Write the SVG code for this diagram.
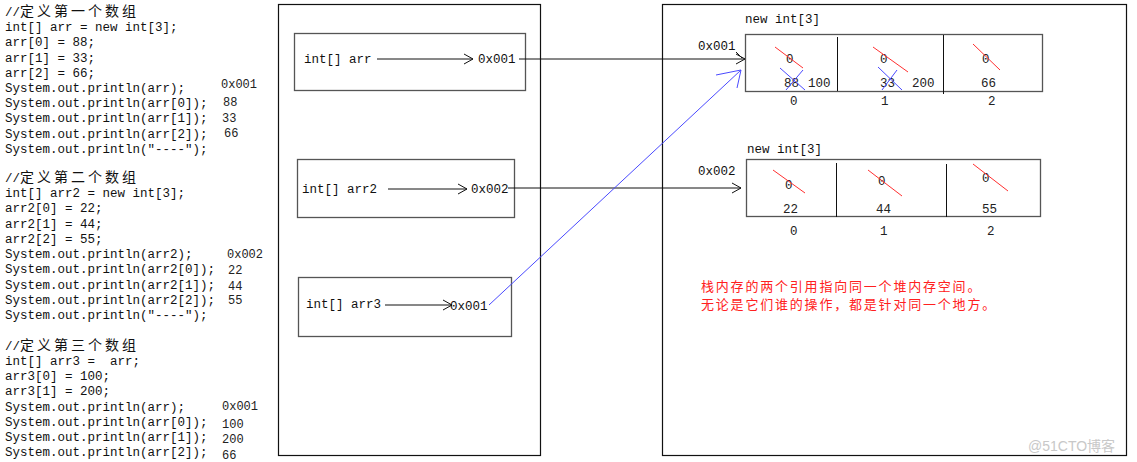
<svg xmlns="http://www.w3.org/2000/svg" width="1137" height="462" viewBox="0 0 1137 462">
<style>
.code{font-family:"Liberation Mono","Noto Sans CJK SC",monospace;font-size:12.5px;fill:#111;white-space:pre}
.cjk{font-family:"Noto Sans CJK SC",sans-serif;font-size:14px;letter-spacing:3px}
.val{font-family:"Liberation Mono","Noto Sans CJK SC",monospace;font-size:12px;fill:#222}
.lbl{font-family:"Liberation Mono",monospace;font-size:12.5px;fill:#111}
.cell{font-family:"Liberation Mono",monospace;font-size:12.5px;fill:#222}
.frame{fill:none;stroke:#111;stroke-width:1.2}
.box{fill:none;stroke:#555;stroke-width:1.3}
.ln{fill:none;stroke:#111;stroke-width:1}
.red{stroke:#ff3030;stroke-width:1;fill:none}
.blue{stroke:#4a4aff;stroke-width:1;fill:none}
.note{font-family:"Noto Sans CJK SC",sans-serif;font-size:13px;letter-spacing:1.8px;fill:#ff2020}
</style>
<defs>
<marker id="oa" markerWidth="12" markerHeight="12" refX="10" refY="6" orient="auto" markerUnits="userSpaceOnUse">
<path d="M1,1 L10,6 L1,11" fill="none" stroke="#111" stroke-width="1"/>
</marker>
</defs>
<rect width="1137" height="462" fill="#fff"/>

<g id="code">
<text class="code" x="5" y="16">//<tspan class="cjk">定义第一个数组</tspan></text>
<text class="code" x="5" y="31">int[] arr = new int[3];</text>
<text class="code" x="5" y="46">arr[0] = 88;</text>
<text class="code" x="5" y="62">arr[1] = 33;</text>
<text class="code" x="5" y="77">arr[2] = 66;</text>
<text class="code" x="5" y="92">System.out.println(arr);</text>
<text class="code" x="5" y="107">System.out.println(arr[0]);</text>
<text class="code" x="5" y="122">System.out.println(arr[1]);</text>
<text class="code" x="5" y="138">System.out.println(arr[2]);</text>
<text class="code" x="5" y="153">System.out.println("----");</text>
<text class="val" x="221" y="88">0x001</text>
<text class="val" x="223" y="106">88</text>
<text class="val" x="222" y="122">33</text>
<text class="val" x="224" y="137">66</text>

<text class="code" x="5" y="182">//<tspan class="cjk">定义第二个数组</tspan></text>
<text class="code" x="5" y="197">int[] arr2 = new int[3];</text>
<text class="code" x="5" y="212">arr2[0] = 22;</text>
<text class="code" x="5" y="228">arr2[1] = 44;</text>
<text class="code" x="5" y="243">arr2[2] = 55;</text>
<text class="code" x="5" y="258">System.out.println(arr2);</text>
<text class="code" x="5" y="273">System.out.println(arr2[0]);</text>
<text class="code" x="5" y="289">System.out.println(arr2[1]);</text>
<text class="code" x="5" y="304">System.out.println(arr2[2]);</text>
<text class="code" x="5" y="319">System.out.println("----");</text>
<text class="val" x="227" y="258">0x002</text>
<text class="val" x="228" y="274">22</text>
<text class="val" x="228" y="290">44</text>
<text class="val" x="228" y="304">55</text>

<text class="code" x="5" y="350">//<tspan class="cjk">定义第三个数组</tspan></text>
<text class="code" x="5" y="365">int[] arr3 =  arr;</text>
<text class="code" x="5" y="380">arr3[0] = 100;</text>
<text class="code" x="5" y="395">arr3[1] = 200;</text>
<text class="code" x="5" y="411">System.out.println(arr);</text>
<text class="code" x="5" y="426">System.out.println(arr[0]);</text>
<text class="code" x="5" y="441">System.out.println(arr[1]);</text>
<text class="code" x="5" y="456">System.out.println(arr[2]);</text>
<text class="val" x="222" y="410">0x001</text>
<text class="val" x="222" y="428">100</text>
<text class="val" x="222" y="443">200</text>
<text class="val" x="222" y="459">66</text>
</g>

<g id="stack">
<rect class="frame" x="278.5" y="4.5" width="262" height="451"/>
</g>
<g id="heap">
<rect class="frame" x="662.5" y="4.5" width="464" height="451"/>
</g>

<g id="ref-arr">
<rect class="box" x="294.5" y="33.5" width="231" height="57"/>
<text class="lbl" x="304" y="63">int[] arr</text>
<text class="lbl" x="478" y="63">0x001</text>
</g>
<g id="ref-arr2">
<rect class="box" x="297.5" y="159.5" width="217" height="58"/>
<text class="lbl" x="302" y="193">int[] arr2</text>
<text class="lbl" x="471" y="193">0x002</text>
</g>
<g id="ref-arr3">
<rect class="box" x="298.5" y="277.5" width="213" height="59"/>
<text class="lbl" x="306" y="308">int[] arr3</text>
<text class="lbl" x="450" y="310">0x001</text>
</g>

<g id="array1">
<text class="lbl" x="745" y="23">new int[3]</text>
<text class="lbl" x="698" y="50">0x001</text>
<rect class="box" x="745.5" y="34.5" width="297" height="57"/>
<line class="ln" x1="837.5" y1="37" x2="837.5" y2="91"/>
<line class="ln" x1="943.5" y1="35" x2="943.5" y2="94"/>
<text class="cell" x="786" y="63">0</text>
<line class="red" x1="775" y1="47" x2="803" y2="68"/>
<text class="cell" x="784" y="87">88</text>
<line class="blue" x1="780" y1="68" x2="805" y2="90"/>
<line class="blue" x1="786" y1="90" x2="803" y2="70"/>
<text class="cell" x="808" y="87">100</text>
<text class="cell" x="880" y="63">0</text>
<line class="red" x1="873" y1="47" x2="908" y2="72"/>
<text class="cell" x="880" y="87">33</text>
<line class="blue" x1="878" y1="67" x2="902" y2="90"/>
<line class="blue" x1="882" y1="90" x2="897" y2="70"/>
<text class="cell" x="912" y="87">200</text>
<text class="cell" x="982" y="63">0</text>
<line class="red" x1="973" y1="44" x2="1000" y2="70"/>
<text class="cell" x="981" y="87">66</text>
<text class="cell" x="790" y="105">0</text>
<text class="cell" x="881" y="105">1</text>
<text class="cell" x="988" y="105">2</text>
</g>

<g id="array2">
<text class="lbl" x="747" y="153">new int[3]</text>
<text class="lbl" x="698" y="175">0x002</text>
<rect class="box" x="746.5" y="159.5" width="294" height="57"/>
<line class="ln" x1="836.5" y1="163" x2="836.5" y2="217"/>
<line class="ln" x1="946.5" y1="164" x2="946.5" y2="217"/>
<text class="cell" x="785" y="189">0</text>
<line class="red" x1="773" y1="170" x2="805" y2="193"/>
<text class="cell" x="783" y="213">22</text>
<text class="cell" x="878" y="185">0</text>
<line class="red" x1="868" y1="170" x2="902" y2="196"/>
<text class="cell" x="876" y="213">44</text>
<text class="cell" x="982" y="182">0</text>
<line class="red" x1="973" y1="164" x2="1008" y2="191"/>
<text class="cell" x="982" y="213">55</text>
<text class="cell" x="790" y="235">0</text>
<text class="cell" x="880" y="235">1</text>
<text class="cell" x="987" y="235">2</text>
</g>

<g id="note">
<text class="note" x="701" y="291">栈内存的两个引用指向同一个堆内存空间。</text>
<text class="note" x="701" y="309">无论是它们谁的操作，都是针对同一个地方。</text>
<text x="1028" y="451" font-family="Liberation Sans,'Noto Sans CJK SC',sans-serif" font-size="14" fill="#c8c8c8">@51CTO博客</text>
</g>

<g id="connectors">
<line class="ln" x1="377" y1="59" x2="473" y2="59" marker-end="url(#oa)"/>
<line class="ln" x1="388" y1="189" x2="467" y2="189" marker-end="url(#oa)" stroke="#333"/>
<line class="ln" x1="385" y1="305" x2="452" y2="305" marker-end="url(#oa)"/>
<line class="ln" x1="519" y1="59" x2="745" y2="59" marker-end="url(#oa)"/>
<path d="M736,52 L742,58" class="ln"/>
<line class="ln" x1="508" y1="188" x2="741" y2="188" marker-end="url(#oa)" stroke="#333"/>
<line class="blue" x1="489" y1="305" x2="741" y2="70"/>
<path class="blue" d="M716,75 L741,70 L737,88"/>
</g>
</svg>
